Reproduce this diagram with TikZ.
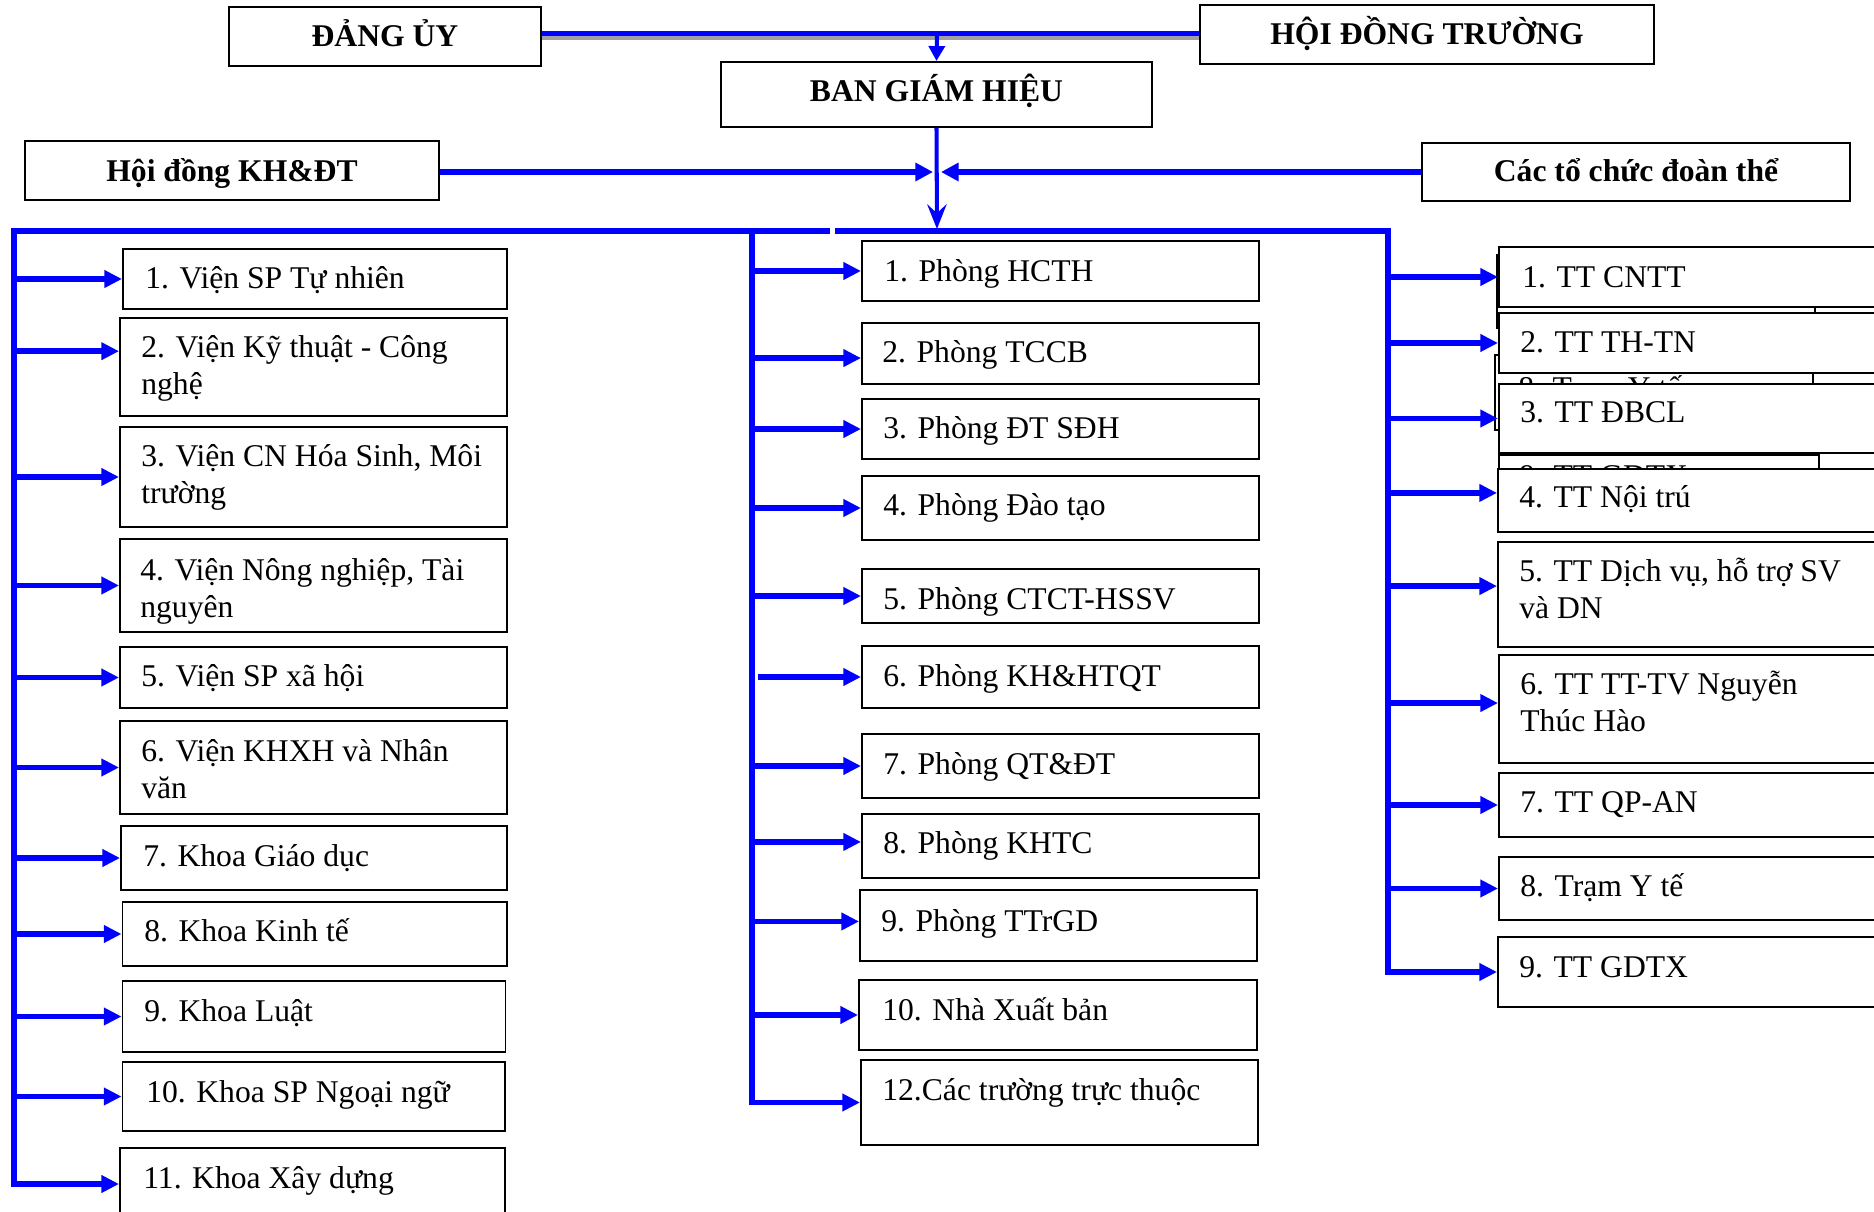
\documentclass[tikz,border=0pt]{standalone}
\usepackage{fontspec}
\setmainfont{Liberation Serif}
\usetikzlibrary{arrows.meta,fit,calc}
\definecolor{shadegray}{RGB}{160,160,160}
\newcommand\twol[2]{\vtop{\hbox{#1}\hbox{#2}}}
\newcommand\brto[4][]{\coordinate (tmp) at ([yshift=#4]#3.west); \draw[br,#1] (tmp -| #2) -- (tmp);}
\tikzset{
  boxst/.style={draw=black, line width=1.1pt, fill=white, inner sep=0pt},
  lbl/.style={anchor=base west, inner sep=0pt, font=\fontsize{18}{21}\selectfont},
  hdr/.style={anchor=base, inner sep=0pt, font=\fontsize{18}{21}\selectfont\bfseries},
  br/.style={draw=blue, line width=3.2pt, -{Triangle[length=10pt,width=9.5pt]}},
  side/.style={draw=blue, line width=3.2pt, -{Triangle[length=10pt,width=10pt]}},
  dnone/.style={draw=blue, line width=2.3pt, -{Triangle[length=8.5pt,width=9pt]}},
  dntwo/.style={draw=blue, line width=2.3pt, -{Stealth[length=14pt,width=11pt,inset=5pt]}}
}
\begin{document}
\begin{tikzpicture}[x=0.02cm,y=-0.02cm]
\useasboundingbox (0,0) rectangle (1874,1212);
\clip (0,0) rectangle (1874,1212);
\fill[white] (0,0) rectangle (1874,1212);

% ---------- top level ----------
\node[boxst, fit={(229,7) (541,66)}] (dang) {};
\node[hdr] (tdang) at (385,47) {ĐẢNG ỦY};
\node[boxst, fit={(1200,5) (1654,64)}] (hdt) {};
\node[hdr] (thdt) at (1427,45) {HỘI ĐỒNG TRƯỜNG};
\node[boxst, fit={(721,62) (1152,127)}] (bgh) {};
\node[hdr] (tbgh) at (936.5,102) {BAN GIÁM HIỆU};
\node[boxst, fit={(25,141) (439,200)}] (hd) {};
\node[hdr] (thd) at (232,182) {Hội đồng KH\&ĐT};
\node[boxst, fit={(1422,143) (1850,201)}] (dt) {};
\node[hdr] (tdt) at (1636,182) {Các tổ chức đoàn thể};

\coordinate (topc) at (937,33.5);
\coordinate (topg) at (937,38);
\draw[draw=shadegray, line width=2.6pt] (dang.east |- topg) -- (hdt.west |- topg);
\draw[draw=blue, line width=2.8pt] (dang.east |- topc) -- (hdt.west |- topc);
\draw[dnone] (topc) -- (bgh.north);
\coordinate (busc) at (937,229);
\draw[dntwo] (bgh.south) -- (busc);
\coordinate (kl) at (933,172);
\coordinate (kr) at (941,172);
\draw[side] (hd.east |- kl) -- (kl);
\draw[side] (dt.west |- kr) -- (kr);

% ---------- hidden boxes (right) ----------
\node[boxst, fit={(1497,255) (1815,328)}] (ha) {};
\node[boxst, fit={(1495,355) (1813,430)}] (hb) {};
\node[lbl] (thb) at (1518,399) {8. Trạm Y tế};
\node[boxst, fit={(1499,455) (1819,530)}] (hc) {};
\node[lbl] (thc) at (1519,487) {9. TT GDTX};

% ---------- left column ----------
\node[boxst, fit={(123,249) (507,309)}] (l1) {};
\node[lbl] (tl1) at (145,289) {1. Viện SP Tự nhiên};
\node[boxst, fit={(120,318) (507,416)}] (l2) {};
\node[lbl] (tl2) at (141,358) {\twol{2. Viện Kỹ thuật - Công}{nghệ}};
\node[boxst, fit={(120,427) (507,527)}] (l3) {};
\node[lbl] (tl3) at (141,467) {\twol{3. Viện CN Hóa Sinh, Môi}{trường}};
\node[boxst, fit={(120,539) (507,632)}] (l4) {};
\node[lbl] (tl4) at (140,581) {\twol{4. Viện Nông nghiệp, Tài}{nguyên}};
\node[boxst, fit={(120,647) (507,708)}] (l5) {};
\node[lbl] (tl5) at (141,687) {5. Viện SP xã hội};
\node[boxst, fit={(120,721) (507,814)}] (l6) {};
\node[lbl] (tl6) at (141,762) {\twol{6. Viện KHXH và Nhân}{văn}};
\node[boxst, fit={(121,826) (507,890)}] (l7) {};
\node[lbl] (tl7) at (143,867) {7. Khoa Giáo dục};
\node[boxst, fit={(122.5,902) (507,966)}] (l8) {};
\node[lbl] (tl8) at (144,942) {8. Khoa Kinh tế};
\node[boxst, fit={(122.5,981) (505.5,1052)}] (l9) {};
\node[lbl] (tl9) at (144,1021) {9. Khoa Luật};
\node[boxst, fit={(122.5,1062) (505,1131)}] (l10) {};
\node[lbl] (tl10) at (146,1102) {10. Khoa SP Ngoại ngữ};
\node[boxst, fit={(120,1148) (505,1220)}] (l11) {};
\node[lbl] (tl11) at (143,1188) {11. Khoa Xây dựng};

% ---------- centre column ----------
\node[boxst, fit={(862,241) (1259,301)}] (c1) {};
\node[lbl] (tc1) at (884,282) {1. Phòng HCTH};
\node[boxst, fit={(862,323) (1259,384)}] (c2) {};
\node[lbl] (tc2) at (882,363) {2. Phòng TCCB};
\node[boxst, fit={(862,399) (1259,459)}] (c3) {};
\node[lbl] (tc3) at (883,439) {3. Phòng ĐT SĐH};
\node[boxst, fit={(862,476) (1259,540)}] (c4) {};
\node[lbl] (tc4) at (883,516) {4. Phòng Đào tạo};
\node[boxst, fit={(862,569) (1259,623)}] (c5) {};
\node[lbl] (tc5) at (883,610) {5. Phòng CTCT-HSSV};
\node[boxst, fit={(862,646) (1259,708)}] (c6) {};
\node[lbl] (tc6) at (883,687) {6. Phòng KH\&HTQT};
\node[boxst, fit={(862,734) (1259,798)}] (c7) {};
\node[lbl] (tc7) at (883,775) {7. Phòng QT\&ĐT};
\node[boxst, fit={(862,814) (1259,878)}] (c8) {};
\node[lbl] (tc8) at (883,854) {8. Phòng KHTC};
\node[boxst, fit={(860,890) (1257,961)}] (c9) {};
\node[lbl] (tc9) at (881,931) {9. Phòng TTrGD};
\node[boxst, fit={(859,980) (1257,1050)}] (c10) {};
\node[lbl] (tc10) at (882,1020) {10. Nhà Xuất bản};
\node[boxst, fit={(861,1060) (1258,1145)}] (c12) {};
\node[lbl] (tc12) at (882,1100) {12.Các trường trực thuộc};

% ---------- right column ----------
\node[boxst, fit={(1499,247) (1900,307)}] (r1) {};
\node[lbl] (tr1) at (1522,288) {1. TT CNTT};
\node[boxst, fit={(1499,313) (1900,373)}] (r2) {};
\node[lbl] (tr2) at (1520,353) {2. TT TH-TN};
\node[boxst, fit={(1499,384) (1900,453)}] (r3) {};
\node[lbl] (tr3) at (1520,423) {3. TT ĐBCL};
\node[boxst, fit={(1498,469) (1900,532)}] (r4) {};
\node[lbl] (tr4) at (1519,508) {4. TT Nội trú};
\node[boxst, fit={(1498,542) (1900,647)}] (r5) {};
\node[lbl] (tr5) at (1519,582) {\twol{5. TT Dịch vụ, hỗ trợ SV}{và DN}};
\node[boxst, fit={(1499,655) (1900,763)}] (r6) {};
\node[lbl] (tr6) at (1520,695) {\twol{6. TT TT-TV Nguyễn}{Thúc Hào}};
\node[boxst, fit={(1499,773) (1900,837)}] (r7) {};
\node[lbl] (tr7) at (1520,813) {7. TT QP-AN};
\node[boxst, fit={(1499,857) (1900,920)}] (r8) {};
\node[lbl] (tr8) at (1520,897) {8. Trạm Y tế};
\node[boxst, fit={(1498,937) (1900,1007)}] (r9) {};
\node[lbl] (tr9) at (1519,977) {9. TT GDTX};

% ---------- bus and verticals ----------
\coordinate (Ltop) at (14,231);
\coordinate (Ctop) at (752,231);
\coordinate (Rtop) at (1388,231);
\coordinate (gapL) at (830,231);
\coordinate (gapR) at (835,231);
\coordinate (l11a) at ([yshift=0pt]l11.west);
\draw[br] (gapL) -- (Ltop) |- (l11a);
\draw[br] (gapR) -- (Rtop) |- (r9.west);
\draw[br] (Ctop) |- (c12.west);

% left branches
\brto{Ltop}{l1}{0pt}
\brto{Ltop}{l2}{9pt}
\brto{Ltop}{l3}{0pt}
\brto{Ltop}{l4}{0pt}
\brto{Ltop}{l5}{0pt}
\brto{Ltop}{l6}{0pt}
\brto{Ltop}{l7}{0pt}
\brto{Ltop}{l8}{0pt}
\brto{Ltop}{l9}{0pt}
\brto{Ltop}{l10}{0pt}
% centre branches
\brto{Ctop}{c1}{0pt}
\brto{Ctop}{c2}{-2.6pt}
\brto{Ctop}{c3}{0pt}
\brto{Ctop}{c4}{0pt}
\brto{Ctop}{c5}{0pt}
\brto[shorten <=3.5pt]{Ctop}{c6}{0pt}
\brto{Ctop}{c7}{0pt}
\brto{Ctop}{c8}{2.3pt}
\brto{Ctop}{c9}{2.3pt}
\brto{Ctop}{c10}{0pt}
% right branches
\brto{Rtop}{r1}{0pt}
\brto{Rtop}{r2}{0pt}
\brto{Rtop}{r3}{0pt}
\brto{Rtop}{r4}{4.3pt}
\brto{Rtop}{r5}{4.8pt}
\brto{Rtop}{r6}{3.4pt}
\brto{Rtop}{r7}{0pt}
\brto{Rtop}{r8}{0pt}
\end{tikzpicture}
\end{document}
